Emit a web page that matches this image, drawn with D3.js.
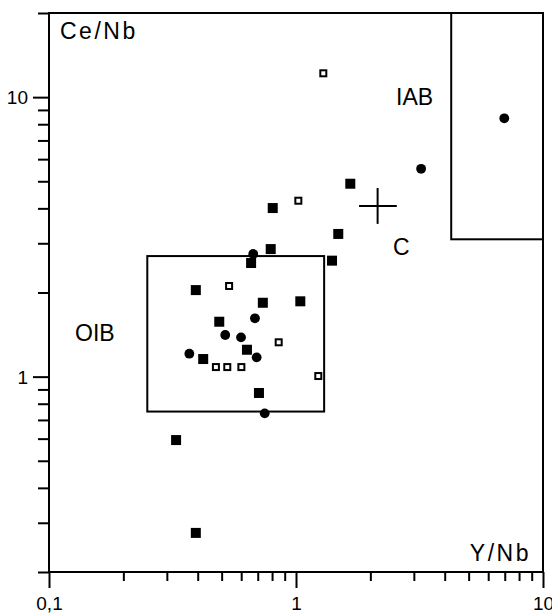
<!DOCTYPE html>
<html>
<head>
<meta charset="utf-8">
<script src="https://cdn.jsdelivr.net/npm/d3@7"></script>
<style>
  body { margin: 0; background: #fff; }
  svg text { font-family: "Liberation Sans", Arial, sans-serif; fill: #000; }
</style>
</head>
<body>
<div id="vis"></div>
<script>
var width = 552;
var height = 613;

// filled squares (Y/Nb, Ce/Nb)
var sqX = [0.327, 0.393, 0.658, 0.790, 1.399, 0.393, 0.734, 1.041, 0.489, 0.633, 0.421, 0.708, 1.659, 0.805, 1.483];
var sqY = [0.593, 0.276, 2.55, 2.86, 2.60, 2.04, 1.838, 1.860, 1.572, 1.248, 1.156, 0.874, 4.90, 4.01, 3.24];

// filled circles
var dotX = [0.671, 0.682, 0.517, 0.599, 0.370, 0.693, 0.747, 3.21, 6.97];
var dotY = [2.746, 1.617, 1.409, 1.382, 1.208, 1.172, 0.739, 5.54, 8.40];

// open squares
var openX = [1.290, 1.022, 0.536, 0.851, 0.474, 0.527, 0.601, 1.231];
var openY = [12.17, 4.26, 2.11, 1.327, 1.082, 1.082, 1.082, 1.005];

// field boxes [xmin, xmax, ymin, ymax]
var oibBox = [0.25, 1.3, 0.75, 2.7];
var iabBox = [4.25, 10, 3.1, 20];

// crust cross: centre and ranges
var crossX = [1.80, 2.14, 2.56];
var crossY = [3.52, 4.08, 4.73];

var xMajor = [0.1, 1, 10];
var xMinor = [0.2, 0.3, 0.4, 0.5, 0.6, 0.7, 0.8, 0.9, 2, 3, 4, 5, 6, 7, 8, 9];
var xLabels = ['0,1', '1', '10'];
var yMajor = [1, 10];
var yMinor = [0.2, 0.3, 0.4, 0.5, 0.6, 0.7, 0.8, 0.9, 2, 3, 4, 5, 6, 7, 8, 9, 20];
var yLabels = ['1', '10'];

var x = d3.scaleLog().domain([0.1, 10]).range([49, 543]);
var y = d3.scaleLog().domain([0.2, 20]).range([572, 13]);

var svg = d3.select('#vis').append('svg')
  .attr('width', width)
  .attr('height', height);

// minor ticks
svg.append('g')
  .attr('transform', 'translate(0,' + y(0.2) + ')')
  .call(d3.axisBottom(x).tickValues(xMinor).tickSize(9).tickSizeOuter(0).tickFormat(''))
  .call(g => g.select('.domain').remove());
svg.append('g')
  .attr('transform', 'translate(' + x(0.1) + ',0)')
  .call(d3.axisLeft(y).tickValues(yMinor).tickSize(11).tickSizeOuter(0).tickFormat(''))
  .call(g => g.select('.domain').remove());

// major ticks with labels
var xAx = svg.append('g')
  .attr('transform', 'translate(0,' + y(0.2) + ')')
  .call(d3.axisBottom(x).tickValues(xMajor).tickSize(16).tickSizeOuter(0)
    .tickFormat((d, i) => xLabels[i]))
  .call(g => g.select('.domain').remove());
xAx.selectAll('text').attr('y', 38).attr('dy', null).style('font-size', '19px');

var yAx = svg.append('g')
  .attr('transform', 'translate(' + x(0.1) + ',0)')
  .call(d3.axisLeft(y).tickValues(yMajor).tickSize(16).tickSizeOuter(0)
    .tickFormat((d, i) => yLabels[i]))
  .call(g => g.select('.domain').remove());
yAx.selectAll('text').attr('x', -21).attr('dy', '0.35em').style('font-size', '19px');

svg.selectAll('.tick line').attr('stroke', '#000').attr('stroke-width', 2);

// frame
svg.append('rect')
  .attr('x', x(0.1)).attr('y', y(20))
  .attr('width', x(10) - x(0.1)).attr('height', y(0.2) - y(20))
  .attr('fill', 'none').attr('stroke', '#000').attr('stroke-width', 2);

// field boxes
[oibBox, iabBox].forEach(function (b) {
  svg.append('rect')
    .attr('x', x(b[0])).attr('y', y(b[3]))
    .attr('width', x(b[1]) - x(b[0])).attr('height', y(b[2]) - y(b[3]))
    .attr('fill', 'none').attr('stroke', '#000').attr('stroke-width', 2);
});

// crust cross
svg.append('line')
  .attr('x1', x(crossX[0])).attr('x2', x(crossX[2]))
  .attr('y1', y(crossY[1])).attr('y2', y(crossY[1]))
  .attr('stroke', '#000').attr('stroke-width', 2);
svg.append('line')
  .attr('x1', x(crossX[1])).attr('x2', x(crossX[1]))
  .attr('y1', y(crossY[0])).attr('y2', y(crossY[2]))
  .attr('stroke', '#000').attr('stroke-width', 2);

// points
svg.selectAll('.sq').data(d3.range(sqX.length)).enter().append('rect')
  .attr('class', 'sq')
  .attr('x', i => x(sqX[i]) - 5).attr('y', i => y(sqY[i]) - 5)
  .attr('width', 10).attr('height', 10)
  .attr('fill', '#000');

svg.selectAll('.dot').data(d3.range(dotX.length)).enter().append('circle')
  .attr('class', 'dot')
  .attr('cx', i => x(dotX[i])).attr('cy', i => y(dotY[i]))
  .attr('r', 4.9)
  .attr('fill', '#000');

svg.selectAll('.open').data(d3.range(openX.length)).enter().append('rect')
  .attr('class', 'open')
  .attr('x', i => x(openX[i]) - 3).attr('y', i => y(openY[i]) - 3)
  .attr('width', 6).attr('height', 6)
  .attr('fill', '#fff').attr('stroke', '#000').attr('stroke-width', 2);

// labels
svg.append('text').attr('x', 60).attr('y', 39)
  .style('font-size', '23px').style('letter-spacing', '2.5px').text('Ce/Nb');
svg.append('text').attr('x', 531).attr('y', 561).attr('text-anchor', 'end')
  .style('font-size', '23px').style('letter-spacing', '2.5px').text('Y/Nb');
svg.append('text').attr('x', 396).attr('y', 105)
  .style('font-size', '23px').text('IAB');
svg.append('text').attr('x', 75).attr('y', 341)
  .style('font-size', '23px').text('OIB');
svg.append('text').attr('x', 393).attr('y', 255)
  .style('font-size', '23px').text('C');
</script>
</body>
</html>
